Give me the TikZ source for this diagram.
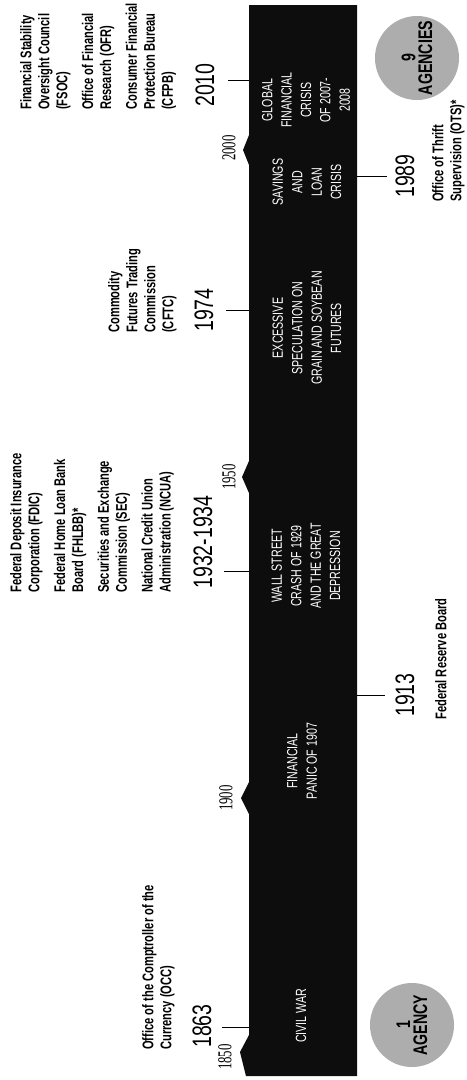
\documentclass[tikz,border=0pt]{standalone}
\usepackage{fontspec}
\setmainfont{Liberation Sans}
\newfontfamily\yearfont[FakeStretch=0.73]{Liberation Sans}
\newfontfamily\condfont[FakeStretch=0.72]{Liberation Sans}
\newfontfamily\decadefont[FakeStretch=0.65]{Liberation Serif}
\tikzset{
  band text/.style={rotate=90, align=center, inner sep=0pt, text=white,
    font=\condfont\fontsize{10.5}{13.8}\selectfont},
  agency/.style={rotate=90, anchor=north west, align=left, inner sep=0pt,
    font=\condfont\bfseries\fontsize{11}{12.8}\selectfont},
  year/.style={rotate=90, inner sep=0pt, font=\yearfont\fontsize{19}{19}\selectfont},
  decade/.style={rotate=90, inner sep=0pt, font=\decadefont\fontsize{14}{14}\selectfont},
  tickline/.style={line width=0.6pt},
  agencycount/.style={circle, fill=black!32, minimum size=2.1cm, rotate=90, align=center,
    inner sep=0pt, font=\condfont\bfseries\fontsize{14}{12}\selectfont}
}
\begin{document}
\begin{tikzpicture}[x=0.025cm, y=-0.025cm]
      \useasboundingbox (0,0) rectangle (467,1080);
      % Black band with a notch at each decade
      \fill[black!95] (249,5) -- (357,5) -- (357,1076) -- (246,1076) -- (240,1052)
        -- (249,1035) -- (249,814) -- (241,798) -- (249,782) -- (249,493) -- (242,477)
        -- (249,461) -- (249,165) -- (243,150) -- (249,135) -- cycle;
      % Decades
      \node[decade] (d1850) at (225,1057) {1850};
      \node[decade] (d1900) at (226,798) {1900};
      \node[decade] (d1950) at (229,477) {1950};
      \node[decade] (d2000) at (229,148) {2000};
      % Events in the band
      \node[band text] (civilwar) at (301,1016) {CIVIL WAR};
      \node[band text] (panic) at (302,761) {FINANCIAL\\PANIC OF 1907};
      \node[band text] (crash) at (306,566) {WALL STREET\\CRASH OF 1929\\AND THE GREAT\\DEPRESSION};
      \node[band text] (grain) at (307,328) {EXCESSIVE\\SPECULATION ON\\GRAIN AND SOYBEAN\\FUTURES};
      \node[band text] (savings) at (307,182) {SAVINGS\\AND\\LOAN\\CRISIS};
      \node[band text] (global) at (306,100) {GLOBAL\\FINANCIAL\\CRISIS\\OF 2007-\\2008};
      % Ticks
      \coordinate (b1863) at (249,1027); \coordinate (l1863) at (222,1027);
      \coordinate (b1913) at (357,695);  \coordinate (l1913) at (385,695);
      \coordinate (b1932) at (249,571);  \coordinate (l1932) at (224,571);
      \coordinate (b1974) at (249,310);  \coordinate (l1974) at (226,310);
      \coordinate (b1989) at (357,176);  \coordinate (l1989) at (387,176);
      \coordinate (b2010) at (249,80);   \coordinate (l2010) at (228,80);
      \foreach \t in {1863,1913,1932,1974,1989,2010}
        \draw[tickline] (b\t) -- (l\t);
      % Years
      \node[year] (y1863) at (202,1026) {1863};
      \node[year] (y1913) at (405,695) {1913};
      \node[year] (y1932) at (203,542) {1932-1934};
      \node[year] (y1974) at (204,310) {1974};
      \node[year] (y1989) at (405,176) {1989};
      \node[year] (y2010) at (205,85) {2010};
      % Agencies
      \node[agency] (occ) at (142,1050) {Office of the Comptroller of the\\Currency (OCC)};
      \node[agency] (frb) at (435,720) {Federal Reserve Board};
      \node[agency] (depression) at (10,593) {Federal Deposit Insurance\\Corporation (FDIC)\\[5.5pt]
        Federal Home Loan Bank\\Board (FHLBB)*\\[5.5pt]
        Securities and Exchange\\Commission (SEC)\\[5.5pt]
        National Credit Union\\Administration (NCUA)};
      \node[agency] (cftc) at (108,333) {Commodity\\Futures Trading\\Commission\\(CFTC)};
      \node[agency] (ots) at (432,202) {Office of Thrift\\Supervision (OTS)*};
      \node[agency] (dodd) at (20,110) {Financial Stability\\Oversight Council\\(FSOC)\\[5.5pt]
        Office of Financial\\Research (OFR)\\[5.5pt]
        Consumer Financial\\Protection Bureau\\(CFPB)};
      % Agency counts
      \node[agencycount] (one) at (412,1025) {1\\AGENCY};
      \node[agencycount] (nine) at (417,58) {9\\AGENCIES};
\end{tikzpicture}
\end{document}
